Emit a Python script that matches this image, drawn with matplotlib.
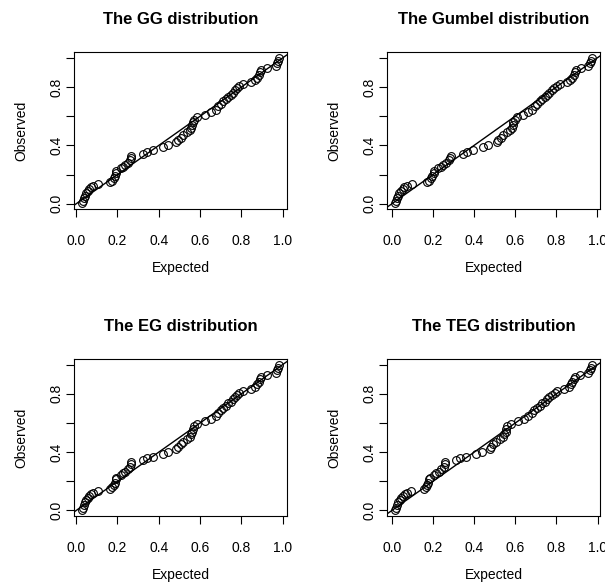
import matplotlib
matplotlib.use("Agg")
import matplotlib.pyplot as plt
import numpy as np

plt.rcParams['font.family'] = ['Liberation Sans', 'DejaVu Sans']

titles = ["The GG distribution", "The Gumbel distribution",
          "The EG distribution", "The TEG distribution"]

observed = [0.002, 0.020, 0.038, 0.056, 0.072, 0.088, 0.101, 0.112, 0.123, 0.135,
            0.148, 0.159, 0.175, 0.191, 0.213, 0.224,
            0.242, 0.254, 0.267, 0.283, 0.299, 0.317, 0.330,
            0.343, 0.357, 0.370, 0.388, 0.402,
            0.422, 0.438, 0.453, 0.471, 0.489, 0.507, 0.523, 0.541, 0.561, 0.577, 0.595,
            0.611, 0.629, 0.646, 0.669, 0.687, 0.703, 0.718, 0.734, 0.747, 0.763, 0.779,
            0.792, 0.806, 0.822,
            0.833, 0.848, 0.864, 0.882, 0.905, 0.918, 0.932, 0.945, 0.963, 0.979, 0.999]

expected_gg = [0.029, 0.032, 0.037, 0.042, 0.049, 0.055, 0.062, 0.070, 0.081, 0.104,
               0.165, 0.175, 0.183, 0.188, 0.193, 0.195,
               0.216, 0.227, 0.238, 0.251, 0.263, 0.266, 0.268,
               0.324, 0.344, 0.373, 0.422, 0.446,
               0.486, 0.494, 0.506, 0.519, 0.535, 0.551, 0.556, 0.563, 0.567, 0.572, 0.587,
               0.624, 0.652, 0.676, 0.689, 0.702, 0.713, 0.725, 0.738, 0.749, 0.759, 0.768,
               0.778, 0.790, 0.807,
               0.846, 0.867, 0.876, 0.885, 0.893, 0.898, 0.927, 0.966, 0.973, 0.978, 0.982]

expected_gumbel = [0.016, 0.021, 0.026, 0.031, 0.037, 0.044, 0.052, 0.060, 0.073, 0.100,
                   0.170, 0.182, 0.190, 0.196, 0.203, 0.206,
                   0.227, 0.238, 0.251, 0.264, 0.279, 0.284, 0.287,
                   0.348, 0.368, 0.397, 0.446, 0.470,
                   0.511, 0.519, 0.530, 0.543, 0.559, 0.575, 0.583, 0.588, 0.592, 0.598, 0.611,
                   0.640, 0.665, 0.681, 0.697, 0.708, 0.721, 0.733, 0.746, 0.757, 0.767, 0.778,
                   0.789, 0.802, 0.818,
                   0.854, 0.870, 0.878, 0.886, 0.891, 0.896, 0.919, 0.956, 0.964, 0.969, 0.974]

expected_eg = [0.029, 0.032, 0.037, 0.042, 0.049, 0.055, 0.062, 0.070, 0.081, 0.104,
               0.165, 0.175, 0.183, 0.188, 0.193, 0.195,
               0.216, 0.227, 0.238, 0.251, 0.263, 0.266, 0.268,
               0.324, 0.344, 0.373, 0.422, 0.446,
               0.486, 0.494, 0.506, 0.519, 0.535, 0.551, 0.556, 0.563, 0.567, 0.572, 0.587,
               0.624, 0.652, 0.676, 0.689, 0.702, 0.713, 0.725, 0.738, 0.749, 0.759, 0.768,
               0.778, 0.790, 0.807,
               0.846, 0.867, 0.876, 0.885, 0.893, 0.898, 0.927, 0.966, 0.973, 0.978, 0.982]

expected_teg = [0.016, 0.021, 0.026, 0.032, 0.039, 0.045, 0.053, 0.063, 0.073, 0.092,
                0.154, 0.164, 0.172, 0.178, 0.182, 0.186,
                0.203, 0.216, 0.229, 0.241, 0.251, 0.256, 0.259,
                0.313, 0.332, 0.361, 0.410, 0.436,
                0.478, 0.483, 0.494, 0.507, 0.524, 0.538, 0.546, 0.553, 0.556, 0.562, 0.579,
                0.611, 0.640, 0.660, 0.679, 0.692, 0.705, 0.718, 0.731, 0.744, 0.754, 0.765,
                0.778, 0.791, 0.805,
                0.838, 0.859, 0.870, 0.878, 0.885, 0.891, 0.916, 0.954, 0.963, 0.968, 0.972]

expected_sets = [expected_gg, expected_gumbel, expected_eg, expected_teg]

xticks = [0.0, 0.2, 0.4, 0.6, 0.8, 1.0]
xticklabels = ["0.0", "0.2", "0.4", "0.6", "0.8", "1.0"]
yticks = [0.0, 0.2, 0.4, 0.6, 0.8, 1.0]
yticklabels = ["0.0", "", "0.4", "", "0.8", ""]

W, H = 605, 583
fig = plt.figure(figsize=(W / 100, H / 100), dpi=100)

lefts = [74.3, 387.3]
tops = [52.3, 359.0]
bw, bh = 212.4, 157.0

for i in range(4):
    r, c = divmod(i, 2)
    L = lefts[c]
    T = tops[r]
    ax = fig.add_axes([L / W, 1 - (T + bh) / H, bw / W, bh / H])
    xs = np.array(expected_sets[i])
    ys = np.array(observed)
    ax.plot(xs, ys, linestyle='none', marker='o', ms=5.6, mfc='none',
            mec='black', mew=0.8)
    xr = xs.max() - xs.min()
    yr = ys.max() - ys.min()
    ax.set_xlim(xs.min() - 0.04 * xr, xs.max() + 0.04 * xr)
    ax.set_ylim(ys.min() - 0.04 * yr, ys.max() + 0.04 * yr)
    ax.axline((0, 0), slope=1, color='black', lw=1.0)
    ax.set_xticks(xticks)
    ax.set_xticklabels(xticklabels)
    ax.set_yticks(yticks)
    ax.set_yticklabels(yticklabels, rotation=90, va='center')
    ax.tick_params(axis='both', direction='out', length=6, width=0.8,
                   labelsize=10, colors='black')
    ax.tick_params(axis='x', pad=12)
    ax.tick_params(axis='y', pad=2)
    for s in ax.spines.values():
        s.set_linewidth(0.8)
        s.set_color('black')
    ax.set_xlabel("Expected", fontsize=10, labelpad=9)
    ax.set_ylabel("Observed", fontsize=10, labelpad=15)
    ax.set_title(titles[i], fontsize=12, fontweight='bold', pad=20.5)

fig.savefig("out.png", dpi=100)
